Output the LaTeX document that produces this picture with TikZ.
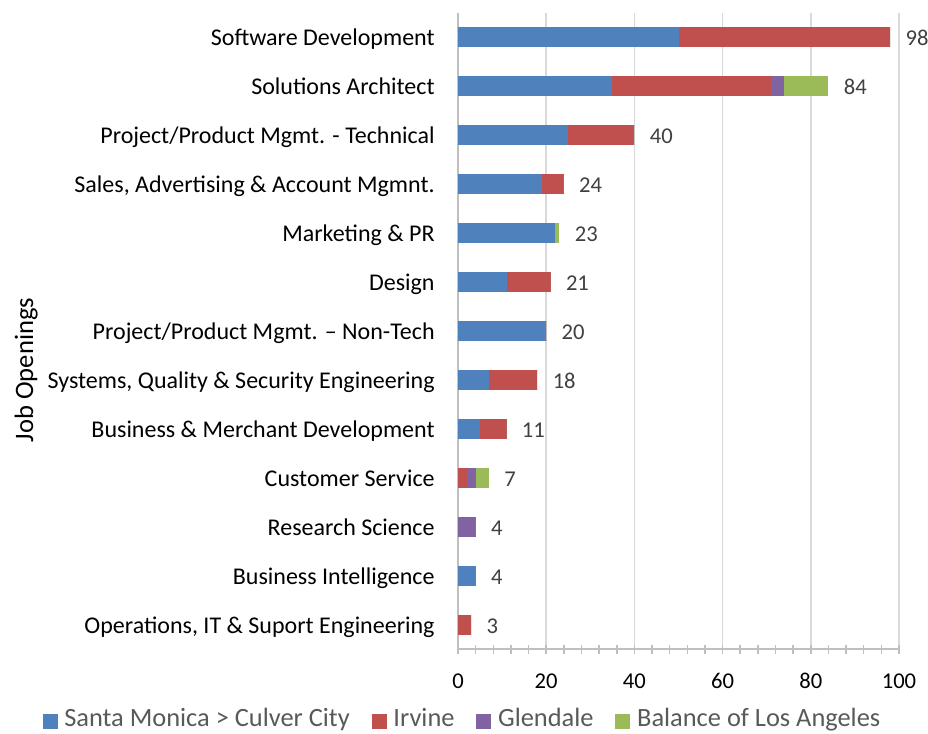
\documentclass[tikz,border=0pt]{standalone}
\usepackage{fontspec}
\setmainfont{Carlito}
\usepackage{xcolor}
\usetikzlibrary{positioning}
\definecolor{smblue}{HTML}{4F81BD}
\definecolor{irvred}{HTML}{C0504D}
\definecolor{glnpurple}{HTML}{8064A2}
\definecolor{lagreen}{HTML}{9BBB59}
\definecolor{gridgray}{HTML}{D9D9D9}
\definecolor{axisgray}{HTML}{BFBFBF}
\definecolor{valgray}{HTML}{404040}
\definecolor{leggray}{HTML}{595959}
\tikzset{cat/.style={anchor=base east,inner sep=0pt,font=\fontsize{12}{14}\selectfont},
    val/.style={anchor=base west,inner sep=0pt,text=valgray,font=\fontsize{11.3}{13}\selectfont},
    num/.style={anchor=base,inner sep=0pt,font=\fontsize{11.3}{13}\selectfont},
    swatch/.style={minimum size=7.5pt,inner sep=0pt},
    leg/.style={inner sep=0pt,text height=0.7em,text depth=0.2em,text=leggray,font=\fontsize{13.2}{15}\selectfont}}

\begin{document}
\begin{tikzpicture}[x=0.5pt,y=-0.5pt]
        \useasboundingbox (0,0) rectangle (928,734);

        % grid and axes
        \foreach \v in {20,40,...,100}
            \draw[gridgray,line width=0.75pt] ({458+4.41*\v},13) -- ({458+4.41*\v},654);
        \draw[axisgray,line width=0.75pt] (458,13) -- (458,649) -- (899,649);
        \foreach \v in {0,4,...,100}
            \draw[axisgray,line width=0.75pt] ({458+4.41*\v},645) -- ({458+4.41*\v},654);
        \foreach \v in {0,20,...,100}
            \node[num] (n\v) at ({458+4.41*\v},688) {\v};

        % stacked bars
        \foreach \name/\sm/\ir/\gl/\la [count=\i from 0] in
            {{Software Development}/50/48/0/0,
             {Solutions Architect}/35/36/3/10,
             {Project/Product Mgmt. - Technical}/25/15/0/0,
             {Sales, Advertising \& Account Mgmnt.}/19/5/0/0,
             {Marketing \& PR}/22/0/0/1,
             {Design}/11/10/0/0,
             {Project/Product Mgmt. – Non-Tech}/20/0/0/0,
             {Systems, Quality \& Security Engineering}/7/11/0/0,
             {Business \& Merchant Development}/5/6/0/0,
             {Customer Service}/0/2/2/3,
             {Research Science}/0/0/4/0,
             {Business Intelligence}/4/0/0/0,
             {Operations, IT \& Suport Engineering}/0/3/0/0}
        {
            \pgfmathsetmacro{\yc}{37+49*\i}
            \pgfmathsetmacro{\xa}{458+4.41*\sm}
            \pgfmathsetmacro{\xb}{\xa+4.41*\ir}
            \pgfmathsetmacro{\xc}{\xb+4.41*\gl}
            \pgfmathsetmacro{\xd}{\xc+4.41*\la}
            \pgfmathtruncatemacro{\tot}{\sm+\ir+\gl+\la}
            \fill[smblue] (458,\yc-10) rectangle (\xa,\yc+10);
            \fill[irvred] (\xa,\yc-10) rectangle (\xb,\yc+10);
            \fill[glnpurple] (\xb,\yc-10) rectangle (\xc,\yc+10);
            \fill[lagreen] (\xc,\yc-10) rectangle (\xd,\yc+10);
            \node[cat] (cat\i) at (435,\yc+8) {\name};
            \node[val] (val\i) at (\xd+15,\yc+8) {\tot};
        }

        \node[rotate=90,anchor=base,inner sep=0pt,font=\fontsize{13.3}{15}\selectfont] (ylab) at (33,370) {Job Openings};

        % legend
        \node[swatch,fill=smblue] (k1) at (50,721) {};
        \node[leg,right=3pt of k1] (t1) {Santa Monica > Culver City};
        \node[swatch,fill=irvred,right=10.5pt of t1] (k2) {};
        \node[leg,right=3pt of k2] (t2) {Irvine};
        \node[swatch,fill=glnpurple,right=10.5pt of t2] (k3) {};
        \node[leg,right=3pt of k3] (t3) {Glendale};
        \node[swatch,fill=lagreen,right=10.5pt of t3] (k4) {};
        \node[leg,right=3pt of k4] (t4) {Balance of Los Angeles};
    \end{tikzpicture}
\end{document}
